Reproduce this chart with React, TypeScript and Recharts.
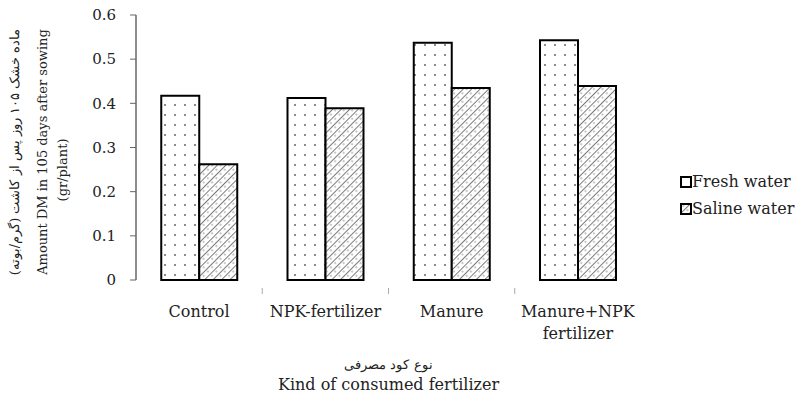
import React from 'react';
import { BarChart, Bar, XAxis, YAxis, Legend } from 'recharts';

// categories and values
const categories = ['Control', 'NPK-fertilizer', 'Manure', 'Manure+NPK\nfertilizer'];
const freshWater = [0.417, 0.412, 0.537, 0.543];
const salineWater = [0.262, 0.389, 0.435, 0.439];
const yTicks = [0, 0.1, 0.2, 0.3, 0.4, 0.5, 0.6];

const seriesNames = ['Fresh water', 'Saline water'];
const xTitleFa = 'نوع کود مصرفی';
const xTitleEn = 'Kind of consumed fertilizer';
const yTitleFa = 'ماده خشک ۱۰۵ روز پس از کاشت (گرم/بوته)';
const yTitleEn = 'Amount DM in 105 days after sowing';
const yTitleUnit = '(gr/plant)';

const data = categories.map((c, i) => ({ name: c, fresh: freshWater[i], saline: salineWater[i] }));

const font = '"DejaVu Serif", "Liberation Serif", serif';

const CategoryTick = (props: any) => {
  const { x, y, payload, index } = props;
  const lines = String(payload.value).split('\n');
  const off = payload.offset || 0;
  return (
    <g>
      {index > 0 && <line x1={x - off} x2={x - off} y1={y} y2={y + 6} stroke="#aaa" strokeWidth={1} />}
      <text x={x} y={y + 29} textAnchor="middle" fontFamily={font} fontSize={16} fill="#222">
        {lines.map((l, k) => (
          <tspan key={k} x={x} dy={k === 0 ? 0 : 22}>{l}</tspan>
        ))}
      </text>
    </g>
  );
};

const YTitle = () => {
  const cy = 152;
  return (
    <g fontFamily={font} fill="#222">
      <text transform={`translate(19, ${cy}) rotate(-90)`} textAnchor="middle" fontSize={13}>{yTitleFa}</text>
      <text transform={`translate(47, ${cy}) rotate(-90)`} textAnchor="middle" fontSize={13}>{yTitleEn}</text>
      <text transform={`translate(67, ${cy + 18}) rotate(-90)`} textAnchor="middle" fontSize={13}>{yTitleUnit}</text>
    </g>
  );
};

const XTitle = (props: any) => {
  const { viewBox } = props;
  const cx = viewBox.x + viewBox.width / 2;
  return (
    <g fontFamily={font} fill="#222" textAnchor="middle">
      <text x={cx} y={369} fontSize={13}>{xTitleFa}</text>
      <text x={cx} y={390} fontSize={16}>{xTitleEn}</text>
    </g>
  );
};

const LegendBox = () => (
  <svg width={130} height={60}>
    <rect x={2} y={5} width={10} height={10} fill="#fff" stroke="#000" strokeWidth={2} />
    <text x={13} y={15} fontFamily={font} fontSize={16} fill="#222">{seriesNames[0]}</text>
    <rect x={2} y={32} width={10} height={10} fill="url(#hatch)" stroke="#000" strokeWidth={2} />
    <text x={13} y={42} fontFamily={font} fontSize={16} fill="#222">{seriesNames[1]}</text>
  </svg>
);

export default function App() {
  return (
    <div style={{ position: 'absolute', left: 0, top: 0, background: '#fff' }}>
      <BarChart
        width={807}
        height={403}
        data={data}
        margin={{ top: 15, right: 36, left: 0, bottom: 0 }}
        barCategoryGap="20%"
        barGap={0}
      >
        <defs>
          <pattern id="dots" width="10" height="10" patternUnits="userSpaceOnUse">
            <rect width="10" height="10" fill="#fff" />
            <circle cx="5" cy="5" r="0.9" fill="#555" />
          </pattern>
          <pattern id="hatch" width="6" height="6" patternUnits="userSpaceOnUse" patternTransform="rotate(45)">
            <rect width="6" height="6" fill="#fff" />
            <line x1="0" y1="0" x2="0" y2="6" stroke="#333" strokeWidth="1.3" />
            <circle cx="3" cy="3" r="0.7" fill="#666" />
          </pattern>
        </defs>
        <XAxis
          dataKey="name"
          axisLine={false}
          tickLine={false}
          interval={0}
          height={123}
          tick={<CategoryTick />}
          label={<XTitle />}
        />
        <YAxis
          domain={[0, 0.6]}
          ticks={yTicks}
          width={136}
          axisLine={{ stroke: '#666', strokeWidth: 1.5 }}
          tickLine={{ stroke: '#666' }}
          tickMargin={14}
          tick={{ fontFamily: font, fontSize: 15, fill: '#222' }}
          tickFormatter={(v: number) => (v === 0 ? '0' : v.toFixed(1))}
          label={<YTitle />}
        />
        <Legend
          layout="vertical"
          align="right"
          verticalAlign="middle"
          content={<LegendBox />}
          wrapperStyle={{ position: 'absolute', left: 679, top: 172, width: 130, height: 60 }}
        />
        <Bar dataKey="fresh" name={seriesNames[0]} fill="url(#dots)" stroke="#000" strokeWidth={2} isAnimationActive={false} />
        <Bar dataKey="saline" name={seriesNames[1]} fill="url(#hatch)" stroke="#000" strokeWidth={2} isAnimationActive={false} />
      </BarChart>
    </div>
  );
}
